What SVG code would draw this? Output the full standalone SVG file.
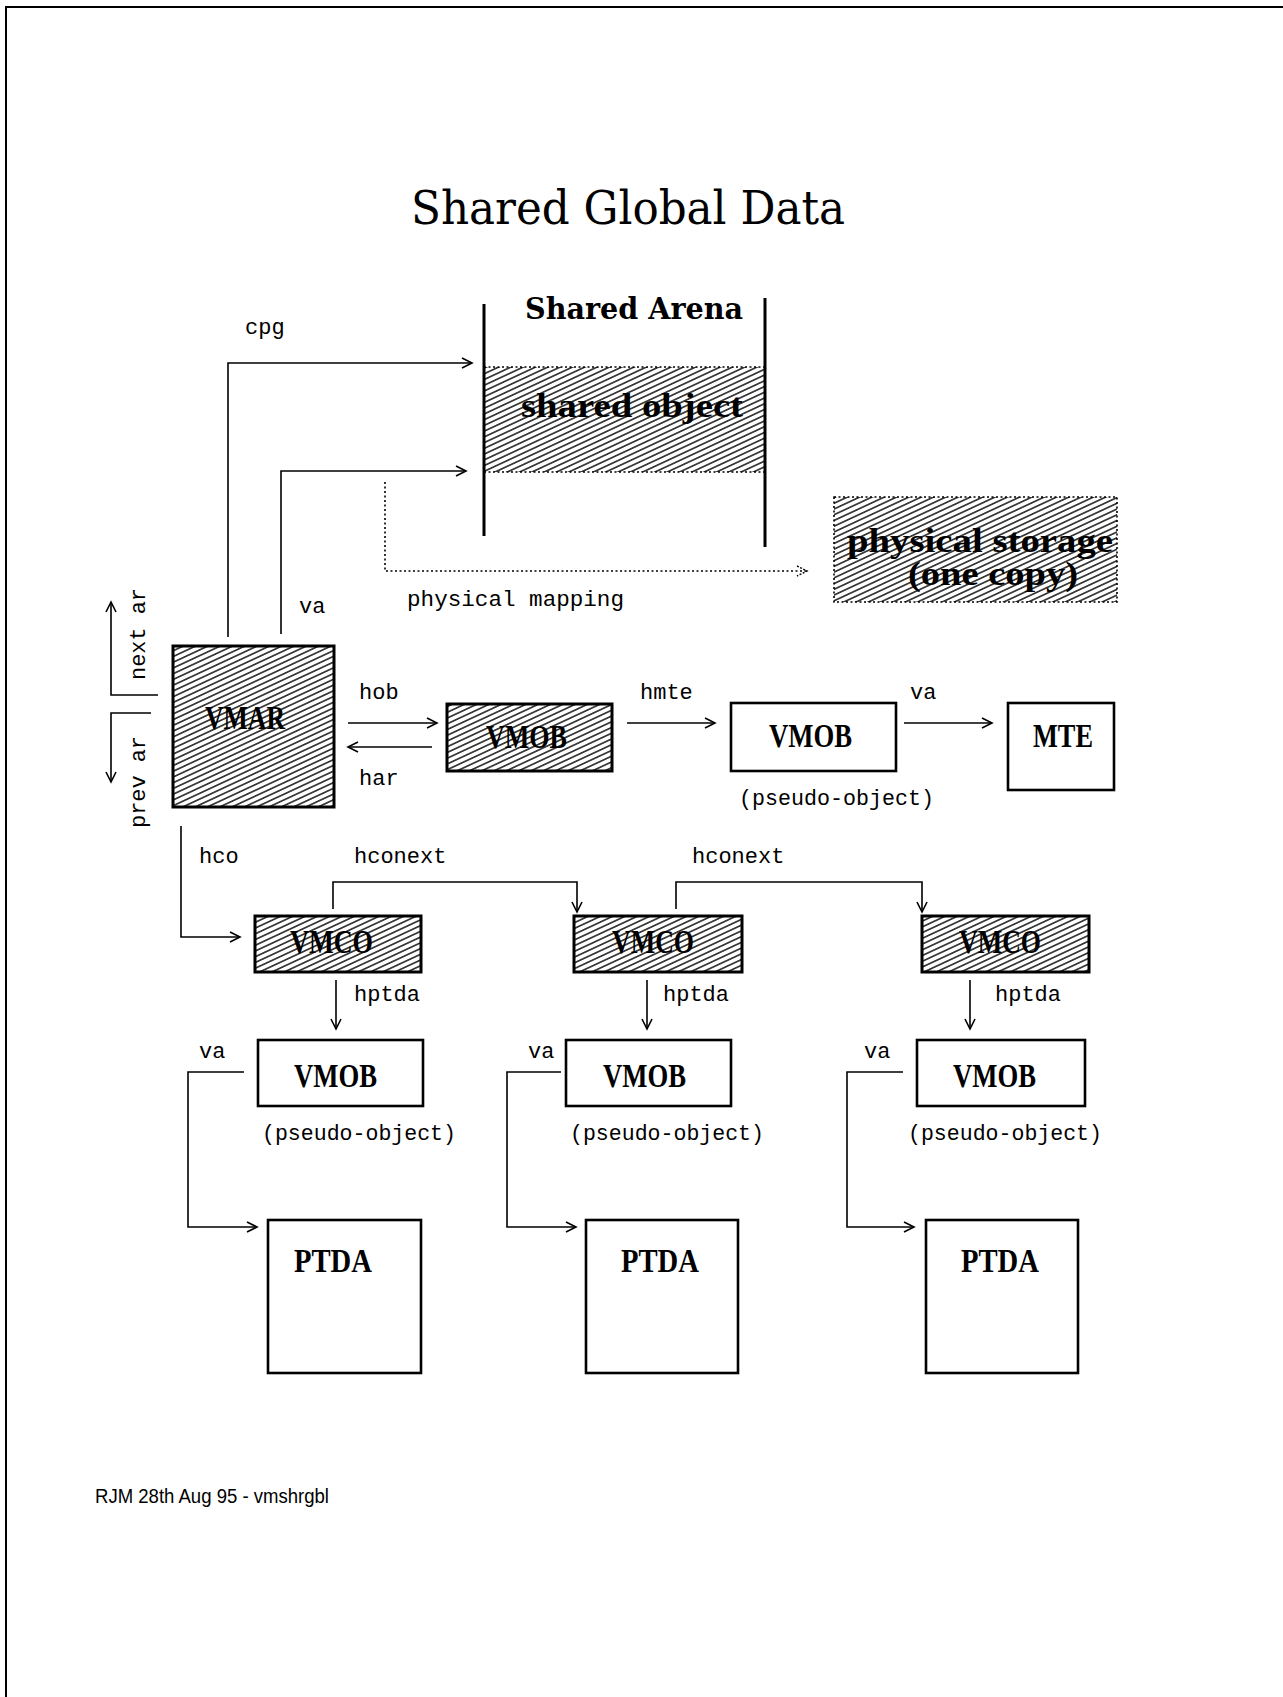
<svg xmlns="http://www.w3.org/2000/svg" width="1283" height="1697" viewBox="0 0 1283 1697">
  <style>
    .page { fill: none; stroke: #000; stroke-width: 2; }
    .mono { font-family: "Liberation Mono", "DejaVu Sans Mono", monospace; font-size: 22px; fill: #000; }
    .title { font-family: "DejaVu Serif Condensed", "DejaVu Serif", "Liberation Serif", serif; font-size: 46px; fill: #000; }
    .arena { font-family: "DejaVu Serif Condensed", "DejaVu Serif", "Liberation Serif", serif; font-size: 30px; font-weight: bold; fill: #000; }
    .lbl { font-family: "Liberation Serif", "DejaVu Serif", serif; font-size: 33px; font-weight: bold; fill: #000; }
    .foot { font-family: "Liberation Sans", Arial, sans-serif; font-size: 20px; fill: #000; }
    .box { fill: #fff; stroke: #000; stroke-width: 2.6; }
    .hbox { fill: url(#hatch); stroke: #000; stroke-width: 3; }
    .conn { fill: none; stroke: #000; stroke-width: 1.6; }
    .arrow { marker-end: url(#open-arrow); }
    .dotted { fill: none; stroke: #000; stroke-width: 1.6; stroke-dasharray: 2 2.5; }
    .wall { stroke: #000; stroke-width: 3; }
  </style>
  <defs>
    <pattern id="hatch" patternUnits="userSpaceOnUse" width="10" height="5.2" patternTransform="rotate(-25)">
      <line x1="0" y1="2.6" x2="10" y2="2.6" stroke="#000" stroke-width="1.35"/>
    </pattern>
    <marker id="open-arrow" markerUnits="userSpaceOnUse" markerWidth="14" markerHeight="14" refX="11" refY="6" orient="auto">
      <path d="M1,1 L11,6 L1,11" fill="none" stroke="#000" stroke-width="1.6"/>
    </marker>
    <marker id="dot-arrow" markerUnits="userSpaceOnUse" markerWidth="14" markerHeight="14" refX="11" refY="6" orient="auto">
      <path d="M1,1 L11,6 L1,11" fill="none" stroke="#000" stroke-width="1.4" stroke-dasharray="2 1.5"/>
    </marker>
  </defs>

  <rect width="1283" height="1697" fill="#fff"/>
  <!-- page frame -->
  <path class="page" d="M6,1697 L6,7 L1283,7"/>

  <g id="title">
    <text class="title" x="411" y="224" textLength="434" lengthAdjust="spacingAndGlyphs">Shared Global Data</text>
  </g>

  <!-- shared arena with the shared object band -->
  <g id="shared-arena">
    <rect x="484" y="367" width="281" height="105" fill="url(#hatch)"/>
    <line class="dotted" x1="484" y1="367" x2="765" y2="367"/>
    <line class="dotted" x1="484" y1="472" x2="765" y2="472"/>
    <line class="wall" x1="484" y1="304" x2="484" y2="536"/>
    <line class="wall" x1="765" y1="298" x2="765" y2="547"/>
    <text class="arena" x="525" y="319" textLength="218" lengthAdjust="spacingAndGlyphs">Shared Arena</text>
  </g>
  <g id="shared-object">
    <text class="lbl" x="521" y="417" textLength="222" lengthAdjust="spacingAndGlyphs">shared object</text>
  </g>

  <g id="physical-storage">
    <rect x="834" y="497" width="283" height="105" fill="url(#hatch)"/>
    <rect class="dotted" x="834" y="497" width="283" height="105"/>
    <text class="lbl" x="847" y="552" textLength="266" lengthAdjust="spacingAndGlyphs">physical storage</text>
    <text class="lbl" x="908" y="585" textLength="170" lengthAdjust="spacingAndGlyphs">(one copy)</text>
  </g>

  <g id="vmar">
    <rect class="hbox" x="173" y="646" width="161" height="161"/>
    <text class="lbl" x="205" y="729" textLength="80" lengthAdjust="spacingAndGlyphs">VMAR</text>
  </g>

  <g id="vmob-object">
    <rect class="hbox" x="447" y="704" width="165" height="67"/>
    <text class="lbl" x="486" y="748" textLength="81" lengthAdjust="spacingAndGlyphs">VMOB</text>
  </g>

  <g id="vmob-pseudo-top">
    <rect class="box" x="731" y="703" width="165" height="68"/>
    <text class="lbl" x="769" y="747" textLength="83" lengthAdjust="spacingAndGlyphs">VMOB</text>
    <text class="mono" x="739" y="805" textLength="195" lengthAdjust="spacingAndGlyphs">(pseudo-object)</text>
  </g>

  <g id="mte">
    <rect class="box" x="1008" y="703" width="106" height="87"/>
    <text class="lbl" x="1033" y="747" textLength="60" lengthAdjust="spacingAndGlyphs">MTE</text>
  </g>

  <g id="vmco-1">
    <rect class="hbox" x="255" y="916" width="166" height="56"/>
    <text class="lbl" x="290" y="953" textLength="83" lengthAdjust="spacingAndGlyphs">VMCO</text>
  </g>
  <g id="vmco-2">
    <rect class="hbox" x="574" y="916" width="168" height="56"/>
    <text class="lbl" x="612" y="953" textLength="82" lengthAdjust="spacingAndGlyphs">VMCO</text>
  </g>
  <g id="vmco-3">
    <rect class="hbox" x="922" y="916" width="167" height="56"/>
    <text class="lbl" x="959" y="953" textLength="82" lengthAdjust="spacingAndGlyphs">VMCO</text>
  </g>

  <g id="vmob-1">
    <rect class="box" x="258" y="1040" width="165" height="66"/>
    <text class="lbl" x="294" y="1087" textLength="83" lengthAdjust="spacingAndGlyphs">VMOB</text>
    <text class="mono" x="262" y="1140" textLength="194" lengthAdjust="spacingAndGlyphs">(pseudo-object)</text>
  </g>
  <g id="vmob-2">
    <rect class="box" x="566" y="1040" width="165" height="66"/>
    <text class="lbl" x="603" y="1087" textLength="83" lengthAdjust="spacingAndGlyphs">VMOB</text>
    <text class="mono" x="570" y="1140" textLength="194" lengthAdjust="spacingAndGlyphs">(pseudo-object)</text>
  </g>
  <g id="vmob-3">
    <rect class="box" x="917" y="1040" width="168" height="66"/>
    <text class="lbl" x="953" y="1087" textLength="83" lengthAdjust="spacingAndGlyphs">VMOB</text>
    <text class="mono" x="908" y="1140" textLength="194" lengthAdjust="spacingAndGlyphs">(pseudo-object)</text>
  </g>

  <g id="ptda-1">
    <rect class="box" x="268" y="1220" width="153" height="153"/>
    <text class="lbl" x="294" y="1272" textLength="78" lengthAdjust="spacingAndGlyphs">PTDA</text>
  </g>
  <g id="ptda-2">
    <rect class="box" x="586" y="1220" width="152" height="153"/>
    <text class="lbl" x="621" y="1272" textLength="78" lengthAdjust="spacingAndGlyphs">PTDA</text>
  </g>
  <g id="ptda-3">
    <rect class="box" x="926" y="1220" width="152" height="153"/>
    <text class="lbl" x="961" y="1272" textLength="78" lengthAdjust="spacingAndGlyphs">PTDA</text>
  </g>

  <g id="connectors">
    <!-- VMAR to shared object -->
    <polyline class="conn arrow" points="228,637 228,363 472,363"/>
    <polyline class="conn arrow" points="281,634 281,471 466,471"/>
    <polyline class="dotted" points="385,482 385,571 807,571" marker-end="url(#dot-arrow)"/>
    <!-- area chain -->
    <polyline class="conn arrow" points="158,695 111,695 111,602"/>
    <polyline class="conn arrow" points="151,713 111,713 111,782"/>
    <!-- VMAR <-> VMOB -->
    <line class="conn arrow" x1="348" y1="723" x2="437" y2="723"/>
    <line class="conn arrow" x1="432" y1="747" x2="348" y2="747"/>
    <line class="conn arrow" x1="627" y1="723" x2="715" y2="723"/>
    <line class="conn arrow" x1="904" y1="723" x2="992" y2="723"/>
    <!-- connections chain -->
    <polyline class="conn arrow" points="181,826 181,937 240,937"/>
    <polyline class="conn arrow" points="333,909 333,882 577,882 577,912"/>
    <polyline class="conn arrow" points="676,909 676,882 922,882 922,912"/>
    <line class="conn arrow" x1="336" y1="980" x2="336" y2="1029"/>
    <line class="conn arrow" x1="647" y1="980" x2="647" y2="1029"/>
    <line class="conn arrow" x1="970" y1="980" x2="970" y2="1029"/>
    <polyline class="conn arrow" points="244,1072 188,1072 188,1227 257,1227"/>
    <polyline class="conn arrow" points="561,1072 507,1072 507,1227 576,1227"/>
    <polyline class="conn arrow" points="903,1072 847,1072 847,1227 914,1227"/>

    <!-- connector labels -->
    <text class="mono" x="245" y="334">cpg</text>
    <text class="mono" x="299" y="613">va</text>
    <text class="mono" x="407" y="606" textLength="217" lengthAdjust="spacingAndGlyphs">physical mapping</text>
    <text class="mono" transform="translate(145,680) rotate(-90)" textLength="92" lengthAdjust="spacingAndGlyphs">next ar</text>
    <text class="mono" transform="translate(145,828) rotate(-90)" textLength="92" lengthAdjust="spacingAndGlyphs">prev ar</text>
    <text class="mono" x="359" y="699">hob</text>
    <text class="mono" x="359" y="785">har</text>
    <text class="mono" x="640" y="699">hmte</text>
    <text class="mono" x="910" y="699">va</text>
    <text class="mono" x="199" y="863">hco</text>
    <text class="mono" x="354" y="863">hconext</text>
    <text class="mono" x="692" y="863">hconext</text>
    <text class="mono" x="354" y="1001">hptda</text>
    <text class="mono" x="663" y="1001">hptda</text>
    <text class="mono" x="995" y="1001">hptda</text>
    <text class="mono" x="199" y="1058">va</text>
    <text class="mono" x="528" y="1058">va</text>
    <text class="mono" x="864" y="1058">va</text>
  </g>

  <g id="footer">
    <text class="foot" x="95" y="1503" textLength="234" lengthAdjust="spacingAndGlyphs">RJM 28th Aug 95 - vmshrgbl</text>
  </g>
</svg>
